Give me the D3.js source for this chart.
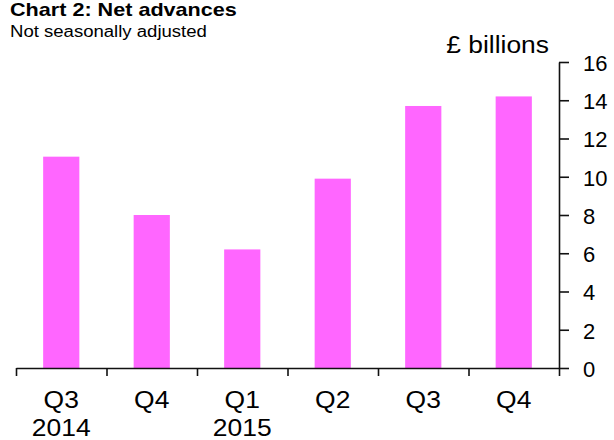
<!DOCTYPE html>
<html>
<head>
<meta charset="utf-8">
<script src="https://cdn.jsdelivr.net/npm/d3@7"></script>
<style>
  html, body { margin: 0; padding: 0; background: #fff; }
  svg { display: block; font-family: "Liberation Sans", Arial, sans-serif; }
</style>
</head>
<body>
<svg id="chart" width="614" height="440"></svg>
<script>
const quarters = ["Q3", "Q4", "Q1", "Q2", "Q3", "Q4"];
const years = ["2014", "", "2015", "", "", ""];
const values = [11.05, 8.0, 6.2, 9.9, 13.7, 14.2];
const yTicks = [0, 2, 4, 6, 8, 10, 12, 14, 16];
const titleText = "Chart 2: Net advances";
const subtitleText = "Not seasonally adjusted";
const unitText = "£ billions";

(function () {
const svg = d3.select("#chart");
const mLeft = 16, mRight = 559, mTop = 62, mBottom = 368;

const x = d3.scaleBand().domain(d3.range(values.length)).range([mLeft, mRight]).paddingInner(0.6).paddingOuter(0.3);
const xEdge = d3.scaleLinear().domain([0, values.length]).range([mLeft, mRight]);
const y = d3.scaleLinear().domain([0, 16]).range([mBottom, mTop]);

// bars
svg.append("g").selectAll("rect").data(values).join("rect")
  .attr("x", (d, i) => x(i))
  .attr("width", x.bandwidth())
  .attr("y", d => y(d))
  .attr("height", d => y(0) - y(d))
  .attr("fill", "#ff66ff");

// x axis with boundary ticks
const gx = svg.append("g").attr("transform", `translate(0,${mBottom})`)
  .call(d3.axisBottom(xEdge).tickValues(d3.range(values.length + 1)).tickSize(8).tickSizeOuter(0).tickFormat(""));
gx.select(".domain").attr("stroke", "#111").attr("stroke-width", 1.6);
gx.selectAll(".tick line").attr("stroke", "#111").attr("stroke-width", 1.6);

// x labels
const lab = svg.append("g").selectAll("g").data(quarters).join("g")
  .attr("transform", (d, i) => `translate(${x(i) + x.bandwidth() / 2},0)`);
lab.append("text")
  .attr("transform", "translate(0,408) scale(1.15,1)")
  .attr("text-anchor", "middle").attr("font-size", 23).attr("fill", "#000")
  .text(d => d);
lab.append("text")
  .attr("transform", "translate(0,436) scale(1.15,1)")
  .attr("text-anchor", "middle").attr("font-size", 23).attr("fill", "#000")
  .text((d, i) => years[i]);

// y axis on right
const gy = svg.append("g").attr("transform", `translate(${mRight},0)`)
  .call(d3.axisRight(y).tickValues(yTicks).tickSize(10).tickSizeOuter(0).tickPadding(14));
gy.select(".domain").attr("stroke", "#111").attr("stroke-width", 1.6);
gy.selectAll(".tick line").attr("stroke", "#111").attr("stroke-width", 1.6);
gy.selectAll(".tick text").attr("font-size", 22).attr("fill", "#000")
  .attr("font-family", "'Liberation Sans', Arial, sans-serif").attr("dy", "0.38em");

// titles
svg.append("text").attr("transform", "translate(10,16) scale(1.2,1)")
  .attr("font-size", 18).attr("font-weight", "bold").attr("fill", "#000").text(titleText);
svg.append("text").attr("transform", "translate(10,37) scale(1.16,1)")
  .attr("font-size", 16).attr("fill", "#000").text(subtitleText);
svg.append("text").attr("transform", "translate(549,53) scale(1.1,1)")
  .attr("text-anchor", "end").attr("font-size", 24).attr("fill", "#000").text(unitText);
})();
</script>
</body>
</html>
